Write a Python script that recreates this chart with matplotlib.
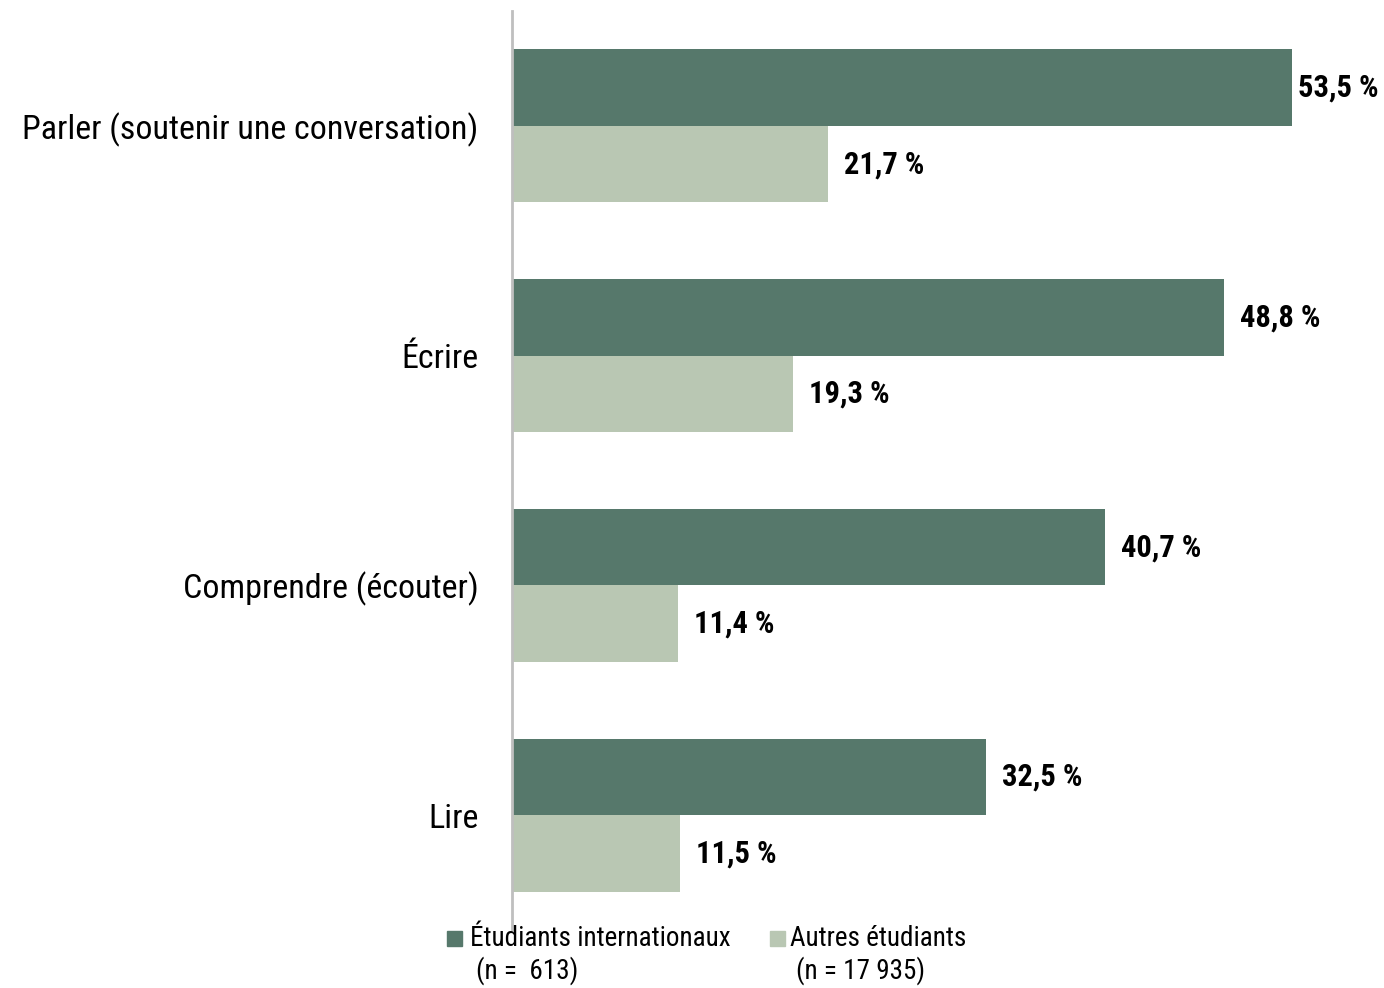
import matplotlib
matplotlib.use("Agg")
import matplotlib.pyplot as plt
import numpy as np
from matplotlib.patches import Rectangle

categories = ["Parler (soutenir une conversation)", "Écrire", "Comprendre (écouter)", "Lire"]
internationaux = [53.5, 48.8, 40.7, 32.5]
autres = [21.7, 19.3, 11.4, 11.5]
series_names = ["Étudiants internationaux", "Autres étudiants"]
series_n = ["(n =  613)", "(n = 17 935)"]

dark = "#56786B"
light = "#B9C7B3"
fam = ["Liberation Sans Narrow", "Arial Narrow", "Roboto Condensed", "DejaVu Sans"]
plt.rcParams['font.family'] = fam

fig = plt.figure(figsize=(13.84, 9.88), dpi=100)
W, H = 1384, 988
ax = fig.add_axes([512 / W, 1 - 930 / H, (1384 - 512) / W, (930 - 11) / H])

n = len(categories)
y = np.arange(n)
bh = 1 / 3.0
ax.barh(y - bh / 2, internationaux, height=bh, color=dark)
ax.barh(y + bh / 2, autres, height=bh, color=light)
ax.set_ylim(n - 0.5, -0.5)
ax.set_xlim(0, 59.8)

def label(v, yy):
    off = 16 if v < 52 else 6
    ax.annotate(f"{v:.1f} %".replace(".", ","), (v, yy), xytext=(off * 0.72, 0),
                textcoords="offset points", va="center", ha="left",
                fontsize=22, fontweight="bold")

for i, (a, b) in enumerate(zip(internationaux, autres)):
    label(a, i - bh / 2)
    label(b, i + bh / 2)

ax.set_yticks(y)
ax.set_yticklabels(categories, fontsize=24.5)
ax.tick_params(axis="y", length=0, pad=24)
ax.set_xticks([])
for s in ["top", "right", "bottom"]:
    ax.spines[s].set_visible(False)
ax.spines["left"].set_color("#BFBFBF")
ax.spines["left"].set_linewidth(2)

# legend drawn manually (marker beside first line)
markers_x = [447, 770]
text_x = [470, 790]
n_x = [476, 796]
colors = [dark, light]
for mx, tx, nx, c, nm, nn in zip(markers_x, text_x, n_x, colors, series_names, series_n):
    fig.patches.append(Rectangle((mx / W, 1 - 946 / H), 15 / W, 15 / H, color=c,
                                 transform=fig.transFigure, figure=fig))
    fig.text(tx / W, 1 - 938 / H, nm, fontsize=19.5, va="center", ha="left")
    fig.text(nx / W, 1 - 971 / H, nn, fontsize=19.5, va="center", ha="left")

fig.savefig("out.png", dpi=100)
